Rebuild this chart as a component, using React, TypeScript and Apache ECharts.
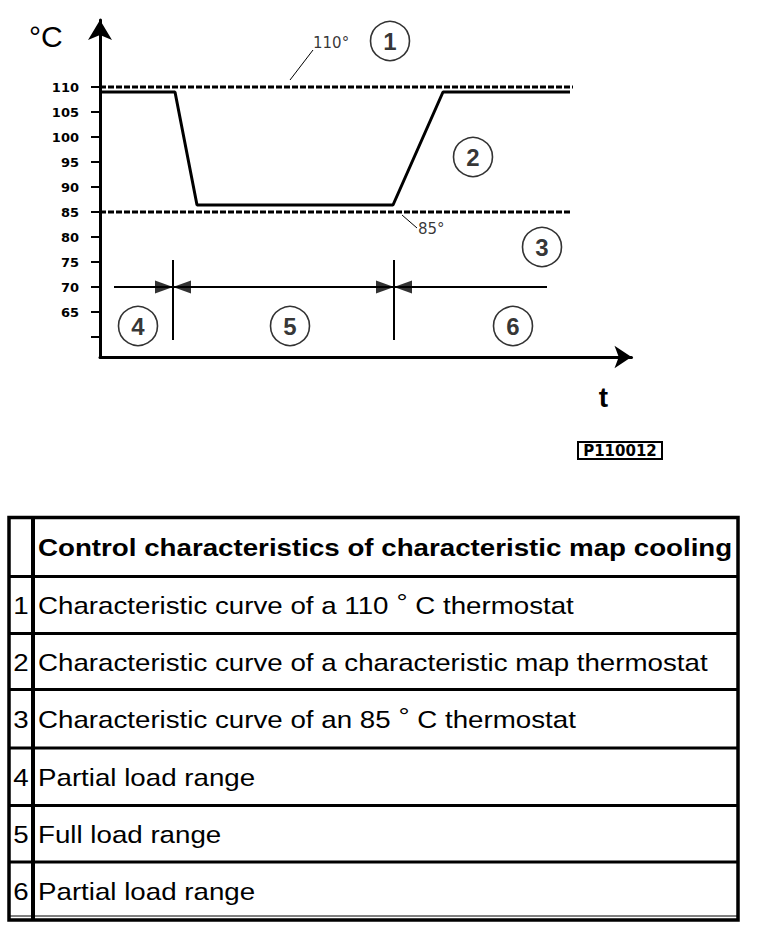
import React, { useEffect, useRef } from 'react';
import * as echarts from 'echarts';

// ---- chart data ----
const yTickValues = [60, 65, 70, 75, 80, 85, 90, 95, 100, 105, 110];
const yLabelValues = [65, 70, 75, 80, 85, 90, 95, 100, 105, 110];

const curveX = [0, 15, 19.4, 58.6, 68.6, 94];
const curveY = [109, 109, 86.4, 86.4, 109, 109];

const limit110X = [0, 94.6];
const limit110Y = [110, 110];
const limit85X = [0, 94];
const limit85Y = [85, 85];

const rangeLineX = [2.8, 89.4];
const rangeLineY = [70, 70];
const dividerX = [14.6, 58.8];
const dividerY = [75.4, 59.4];
const arrowRightX = [12.8, 57.0];
const arrowLeftX = [16.4, 60.6];
const arrowY = 70;

const circleLabels = ['1', '2', '3', '4', '5', '6'];
const circleX = [58, 74.6, 88.4, 7.6, 38, 82.6];
const circleY = [119.2, 96, 78, 62.2, 62.2, 62.2];

const noteLabels = ['110°', '85°'];
const noteX = [42.6, 63.6];
const noteY = [118.9, 81.7];
const leader110X = [38, 42.6];
const leader110Y = [111.4, 117.4];
const leader85X = [60.4, 63.4];
const leader85Y = [84.4, 81.8];

// ---- table data ----
const tableHeader = 'Control characteristics of characteristic map cooling';
const tableNumbers = ['1', '2', '3', '4', '5', '6'];
const tableRows = [
  'Characteristic curve of a 110 ° C thermostat',
  'Characteristic curve of a characteristic map thermostat',
  'Characteristic curve of an 85 ° C thermostat',
  'Partial load range',
  'Full load range',
  'Partial load range',
];

const zip = (xs: number[], ys: number[]) => xs.map((x, i) => [x, ys[i]]);

export default function App() {
  const ref = useRef<HTMLDivElement>(null);

  useEffect(() => {
    if (!ref.current) return;
    const chart = echarts.init(ref.current, undefined, { renderer: 'svg' });

    const black = '#000';
    const lineSeries = (name: string, data: number[][], width: number, type: any = 'solid') => ({
      name,
      type: 'line',
      data,
      symbol: 'none',
      silent: true,
      clip: false,
      lineStyle: { color: black, width, type, cap: 'butt' },
    });

    // table geometry
    const tLeft = 9;
    const tRight = 738;
    const tTop = 517.5;
    const rowLines = [576.5, 633.5, 689.5, 748, 805.5, 862];
    const tBottom = 920;
    const colX = 33;
    const sx = 1.155;
    const bounds = [tTop, ...rowLines, tBottom];
    const centers = bounds.slice(0, -1).map((b, i) => (b + bounds[i + 1]) / 2 + 1);

    const textEl = (text: string, x: number, y: number, opts: any = {}) => ({
      type: 'text',
      x,
      y,
      scaleX: opts.scaleX ?? 1,
      silent: true,
      style: {
        text,
        fill: black,
        fontSize: opts.fontSize ?? 24,
        fontFamily: opts.fontFamily ?? 'Liberation Sans, Arial, sans-serif',
        fontWeight: opts.fontWeight ?? 'normal',
        align: opts.align ?? 'left',
        verticalAlign: opts.verticalAlign ?? 'middle',
        textAlign: opts.align ?? 'left',
        textVerticalAlign: opts.verticalAlign ?? 'middle',
        rich: opts.rich,
      },
    });

    const graphics: any[] = [];
    // table frame
    graphics.push({
      type: 'rect',
      shape: { x: tLeft, y: tTop, width: tRight - tLeft, height: tBottom - tTop },
      style: { fill: 'none', stroke: black, lineWidth: 3.5 },
      silent: true,
    });
    graphics.push({
      type: 'line',
      shape: { x1: tLeft, y1: tBottom - 4, x2: tRight, y2: tBottom - 4 },
      style: { stroke: black, lineWidth: 1 },
      silent: true,
    });
    rowLines.forEach((y) =>
      graphics.push({
        type: 'line',
        shape: { x1: tLeft, y1: y, x2: tRight, y2: y },
        style: { stroke: black, lineWidth: 3 },
        silent: true,
      })
    );
    graphics.push({
      type: 'line',
      shape: { x1: colX, y1: tTop, x2: colX, y2: tBottom },
      style: { stroke: black, lineWidth: 4 },
      silent: true,
    });
    graphics.push(textEl(tableHeader, 38, centers[0], { fontWeight: 'bold', scaleX: sx }));
    tableRows.forEach((row, i) => {
      const rich = { s: { fontSize: 24, fontFamily: 'Liberation Sans, Arial, sans-serif', padding: [0, 0, 9, 0], verticalAlign: 'top' } };
      const txt = row.replace('°', '{s|°}');
      graphics.push(textEl(txt, 38, centers[i + 1], { scaleX: sx, rich }));
      graphics.push(textEl(tableNumbers[i], 21, centers[i + 1], { scaleX: sx, align: 'center' }));
    });

    // chart annotations in page space
    graphics.push(textEl('°C', 29, 36, { fontSize: 30 }));
    graphics.push(textEl('t', 603.5, 411, { fontSize: 28, fontWeight: 'bold', align: 'center', verticalAlign: 'bottom' }));
    graphics.push({
      type: 'rect',
      shape: { x: 578, y: 442, width: 84, height: 17 },
      style: { fill: '#fff', stroke: black, lineWidth: 2 },
      silent: true,
    });
    graphics.push(textEl('P110012', 620, 451, { fontSize: 15, fontWeight: 'bold', fontFamily: 'DejaVu Sans', align: 'center' }));

    const option: any = {
      animation: false,
      backgroundColor: '#fff',
      grid: { left: 100, top: 20, width: 531.5, height: 337, containLabel: false },
      xAxis: {
        type: 'value',
        min: 0,
        max: 106.3,
        axisLine: { show: true, lineStyle: { color: black, width: 3 }, symbol: ['none', 'arrow'], symbolSize: [17, 17] },
        axisTick: { show: false },
        axisLabel: { show: false },
        splitLine: { show: false },
      },
      yAxis: {
        type: 'value',
        min: 56,
        max: 123.4,
        axisLine: { show: true, lineStyle: { color: black, width: 3 }, symbol: ['none', 'arrow'], symbolSize: [18, 20] },
        axisTick: { show: true, length: 9, customValues: yTickValues, lineStyle: { color: black, width: 2 } },
        axisLabel: {
          show: true,
          customValues: yLabelValues,
          margin: 21,
          color: black,
          fontSize: 13,
          fontWeight: 'bold',
          fontFamily: 'DejaVu Sans',
        },
        splitLine: { show: false },
      },
      series: [
        lineSeries('110° thermostat', zip(limit110X, limit110Y), 3, [6, 2]),
        lineSeries('85° thermostat', zip(limit85X, limit85Y), 3, [6, 2]),
        lineSeries('map thermostat', zip(curveX, curveY), 3),
        lineSeries('load range', zip(rangeLineX, rangeLineY), 2),
        lineSeries('divider 1', [[dividerX[0], dividerY[0]], [dividerX[0], dividerY[1]]], 2),
        lineSeries('divider 2', [[dividerX[1], dividerY[0]], [dividerX[1], dividerY[1]]], 2),
        lineSeries('leader 110', zip(leader110X, leader110Y), 1),
        lineSeries('leader 85', zip(leader85X, leader85Y), 1),
        {
          name: 'arrows right',
          type: 'scatter',
          silent: true,
          symbol: 'triangle',
          symbolSize: [13, 18],
          symbolRotate: -90,
          itemStyle: { color: black },
          data: arrowRightX.map((x) => [x, arrowY]),
        },
        {
          name: 'arrows left',
          type: 'scatter',
          silent: true,
          symbol: 'triangle',
          symbolSize: [13, 18],
          symbolRotate: 90,
          itemStyle: { color: black },
          data: arrowLeftX.map((x) => [x, arrowY]),
        },
        {
          name: 'notes',
          type: 'scatter',
          silent: true,
          symbolSize: 0,
          itemStyle: { color: 'transparent' },
          label: {
            show: true,
            position: 'right',
            distance: 0,
            formatter: '{b}',
            color: black,
            fontSize: 15,
            fontFamily: 'DejaVu Sans',
          },
          data: noteLabels.map((n, i) => ({ name: n, value: [noteX[i], noteY[i]] })),
        },
        {
          name: 'circles',
          type: 'scatter',
          silent: true,
          symbol: 'circle',
          symbolSize: 39,
          z: 5,
          itemStyle: { color: '#fff', borderColor: black, borderWidth: 1.6 },
          label: {
            show: true,
            position: 'inside',
            formatter: '{b}',
            color: black,
            fontSize: 24,
            fontWeight: 'bold',
            fontFamily: 'Liberation Sans, Arial, sans-serif',
          },
          data: circleLabels.map((n, i) => ({ name: n, value: [circleX[i], circleY[i]] })),
        },
      ],
      graphic: { elements: graphics },
    };

    chart.setOption(option);
    return () => chart.dispose();
  }, []);

  return (
    <div
      ref={ref}
      style={{ position: 'absolute', left: 0, top: 0, width: 768, height: 932, background: '#fff' }}
    />
  );
}
